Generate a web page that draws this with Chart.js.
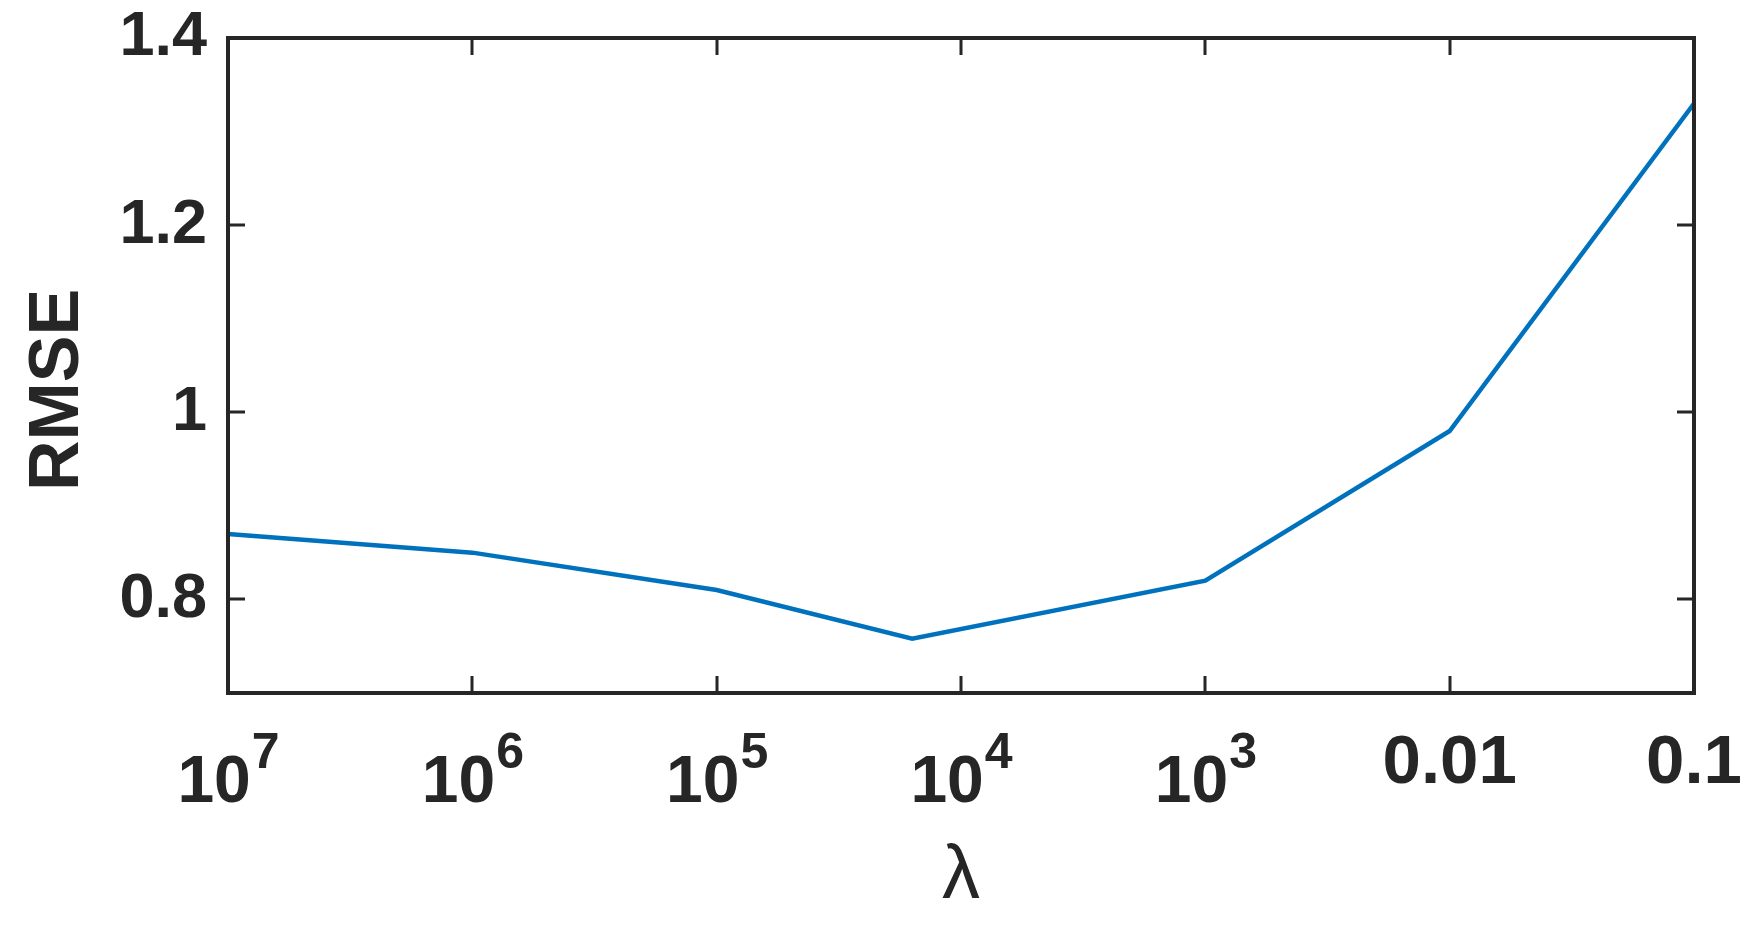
<!DOCTYPE html>
<html>
<head>
<meta charset="utf-8">
<script src="https://cdn.jsdelivr.net/npm/chart.js@4.4.1/dist/chart.umd.min.js"></script>
<style>
  html, body { margin: 0; padding: 0; background: #fff; }
  #wrap { width: 1758px; height: 925px; }
</style>
</head>
<body>
<div id="wrap"><canvas id="c" width="1758" height="925"></canvas></div>
<script>
// data (x = tick slot, 1..7)
const xPos = [1, 2, 3, 3.8, 5, 6, 7];
const rmse = [0.87, 0.85, 0.81, 0.758, 0.82, 0.98, 1.33];

// x ticks: slot, base text, exponent (empty = plain label)
const xTickVals = [1, 2, 3, 4, 5, 6, 7];
const xTickBase = ["10", "10", "10", "10", "10", "0.01", "0.1"];
const xTickExp  = ["7", "6", "5", "4", "3", "", ""];

const yTicks = [0.8, 1, 1.2, 1.4];
const yMin = 0.7, yMax = 1.4;

const FONT = '"Liberation Sans", Arial, sans-serif';
const axisColor = "#262626";
const lineColor = "#0072BD";
const tickLen = 17;

// MATLAB style box, inward ticks, x labels with superscripts, axis titles
const matlabAxes = {
  id: "matlabAxes",
  afterDraw(chart) {
    const { ctx, chartArea: a, scales: { x, y } } = chart;
    ctx.save();
    ctx.strokeStyle = axisColor;
    ctx.lineCap = "butt";

    ctx.lineWidth = 3;
    ctx.beginPath();
    xTickVals.forEach(v => {
      const px = Math.round(x.getPixelForValue(v));
      ctx.moveTo(px, a.bottom); ctx.lineTo(px, a.bottom - tickLen);
      ctx.moveTo(px, a.top);    ctx.lineTo(px, a.top + tickLen);
    });
    yTicks.forEach(v => {
      const py = Math.round(y.getPixelForValue(v));
      ctx.moveTo(a.left, py);  ctx.lineTo(a.left + tickLen, py);
      ctx.moveTo(a.right, py); ctx.lineTo(a.right - tickLen, py);
    });
    ctx.stroke();

    ctx.lineWidth = 4;
    ctx.strokeRect(a.left, a.top, a.right - a.left, a.bottom - a.top);

    // x tick labels
    ctx.fillStyle = axisColor;
    ctx.textBaseline = "alphabetic";
    ctx.textAlign = "left";
    const baseFont = "bold 66px " + FONT;
    const expFont = "bold 50px " + FONT;
    xTickVals.forEach((v, i) => {
      const cx = x.getPixelForValue(v);
      const base = xTickBase[i], ex = xTickExp[i];
      ctx.font = baseFont;
      const wb = ctx.measureText(base).width;
      if (ex) {
        ctx.font = expFont;
        const we = ctx.measureText(ex).width;
        const x0 = cx - (wb + we) / 2;
        ctx.font = baseFont;
        ctx.fillText(base, x0, a.bottom + 109);
        ctx.font = expFont;
        ctx.fillText(ex, x0 + wb + 1, a.bottom + 75);
      } else {
        ctx.font = "bold 69px " + FONT;
        const w = ctx.measureText(base).width;
        ctx.fillText(base, cx - w / 2, a.bottom + 90);
      }
    });

    // x title
    ctx.font = "76px " + FONT;
    ctx.textAlign = "center";
    ctx.fillText("λ", (a.left + a.right) / 2, 898);

    // y title
    ctx.font = "bold 70px " + FONT;
    ctx.translate(78, 390);
    ctx.rotate(-Math.PI / 2);
    ctx.fillText("RMSE", 0, 0);

    ctx.restore();
  }
};

const ctx = document.getElementById("c").getContext("2d");
new Chart(ctx, {
  type: "line",
  data: {
    datasets: [{
      data: xPos.map((v, i) => ({ x: v, y: rmse[i] })),
      borderColor: lineColor,
      borderWidth: 4.5,
      pointRadius: 0,
      tension: 0,
      fill: false,
    }],
  },
  options: {
    responsive: false,
    devicePixelRatio: 1,
    animation: false,
    layout: { padding: { top: 0, right: 64, left: 0, bottom: 0 } },
    plugins: { legend: { display: false }, tooltip: { enabled: false } },
    scales: {
      x: {
        type: "linear",
        min: 1,
        max: 7,
        grid: { display: false },
        border: { display: false },
        ticks: { display: false },
        afterBuildTicks: s => { s.ticks = xTickVals.map(v => ({ value: v })); },
        afterFit: s => { s.height = 232; },
      },
      y: {
        min: yMin,
        max: yMax,
        grid: { display: false, drawTicks: false },
        border: { display: false },
        ticks: {
          color: axisColor,
          font: { family: FONT, size: 63, weight: "bold", lineHeight: 1.2 },
          padding: 21,
          callback: v => String(v),
        },
        afterBuildTicks: s => { s.ticks = yTicks.map(v => ({ value: v })); },
        afterFit: s => { s.width = 228; s.paddingTop = 38; },
      },
    },
  },
  plugins: [matlabAxes],
});
</script>
</body>
</html>
